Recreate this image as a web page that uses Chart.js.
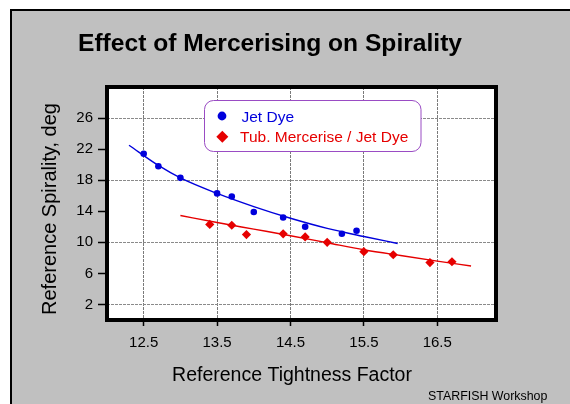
<!DOCTYPE html>
<html>
<head>
<meta charset="utf-8">
<script src="https://cdn.jsdelivr.net/npm/chart.js@4.4.0/dist/chart.umd.min.js"></script>
<style>
  html, body { margin: 0; padding: 0; background: #fff; }
</style>
</head>
<body>
<canvas id="chart" width="570" height="404"></canvas>
<script>
// values
const jetX = [12.5, 12.7, 13.0, 13.5, 13.7, 14.0, 14.4, 14.7, 15.2, 15.4];
const jetY = [21.4, 19.8, 18.3, 16.3, 15.9, 13.9, 13.2, 12.0, 11.1, 11.5];
const mercX = [13.4, 13.7, 13.9, 14.4, 14.7, 15.0, 15.5, 15.9, 16.4, 16.7];
const mercY = [12.3, 12.2, 11.0, 11.1, 10.7, 10.0, 8.8, 8.4, 7.4, 7.5];
// trend lines
const jetFitX = [12.3, 12.7, 13.0, 13.5, 14.0, 14.5, 15.0, 15.5, 15.96];
const jetFitY = [22.5, 19.9, 18.3, 16.3, 14.6, 13.1, 11.8, 10.75, 9.85];
const mercFitX = [13.0, 13.5, 14.0, 14.5, 15.0, 15.5, 16.0, 16.5, 16.96];
const mercFitY = [13.45, 12.55, 11.7, 10.85, 9.95, 9.05, 8.3, 7.58, 6.95];

const xTicks = [12.5, 13.5, 14.5, 15.5, 16.5];
const yTicks = [2, 6, 10, 14, 18, 22, 26];
const yGridAt = [2, 10, 18, 26];

const seriesNames = ['Jet Dye', 'Tub. Mercerise / Jet Dye'];
const BLUE = 'rgb(0,0,220)';
const RED = 'rgb(230,0,0)';
const FONT = '"Liberation Sans", Arial, sans-serif';

const pts = (xs, ys) => xs.map((x, i) => ({ x: x, y: ys[i] }));

const framePlugin = {
  id: 'frame',
  beforeDraw(chart) {
    const c = chart.ctx, a = chart.chartArea;
    c.save();
    c.fillStyle = '#fff';
    c.fillRect(0, 0, chart.width, chart.height);
    c.fillStyle = '#c0c0c0';
    c.fillRect(11, 10, chart.width - 11, chart.height - 10);
    c.fillStyle = '#000';
    c.fillRect(10, 9, chart.width - 10, 2);
    c.fillRect(10, 9, 2, chart.height - 9);
    c.fillStyle = '#fff';
    c.fillRect(a.left, a.top, a.width, a.height);
    c.restore();
  },
  afterDatasetsDraw(chart) {
    const c = chart.ctx, a = chart.chartArea;
    c.save();
    // plot border
    c.strokeStyle = '#000';
    c.lineWidth = 4;
    c.strokeRect(a.left, a.top, a.width, a.height);

    // legend box
    c.beginPath();
    c.roundRect(204.5, 100.5, 216.5, 51, 9);
    c.fillStyle = '#fff';
    c.fill();
    c.strokeStyle = '#9a4cc4';
    c.lineWidth = 1;
    c.stroke();

    c.fillStyle = BLUE;
    c.beginPath();
    c.arc(222, 116, 4.4, 0, Math.PI * 2);
    c.fill();
    c.fillStyle = RED;
    c.beginPath();
    c.moveTo(222.3, 130.7);
    c.lineTo(228.3, 136.7);
    c.lineTo(222.3, 142.7);
    c.lineTo(216.3, 136.7);
    c.closePath();
    c.fill();

    c.font = '15.5px ' + FONT;
    c.textBaseline = 'alphabetic';
    c.textAlign = 'left';
    c.fillStyle = BLUE;
    c.fillText(seriesNames[0], 241.5, 121.6);
    c.fillStyle = RED;
    c.fillText(seriesNames[1], 240, 142.3);
    c.restore();
  },
  afterDraw(chart) {
    const c = chart.ctx;
    c.save();
    c.fillStyle = '#000';
    c.textAlign = 'center';
    c.textBaseline = 'alphabetic';
    c.font = 'bold 24.6px ' + FONT;
    c.fillText('Effect of Mercerising on Spirality', 270, 51);

    c.font = '19.5px ' + FONT;
    c.fillText('Reference Tightness Factor', 292, 381);

    c.save();
    c.translate(56, 209);
    c.rotate(-Math.PI / 2);
    c.font = '20px ' + FONT;
    c.fillText('Reference Spirality, deg', 0, 0);
    c.restore();

    c.textAlign = 'left';
    c.font = '12.4px ' + FONT;
    c.fillText('STARFISH Workshop', 428, 400);
    c.restore();
  }
};

new Chart(document.getElementById('chart'), {
  type: 'scatter',
  data: {
    datasets: [
      {
        label: seriesNames[0],
        data: pts(jetX, jetY),
        pointStyle: 'circle',
        pointRadius: 3.3,
        pointBorderWidth: 0,
        backgroundColor: BLUE,
        borderColor: BLUE
      },
      {
        label: seriesNames[1],
        data: pts(mercX, mercY),
        pointStyle: 'rectRot',
        pointRadius: 4.6,
        pointBorderWidth: 0,
        backgroundColor: RED,
        borderColor: RED
      },
      {
        type: 'line',
        label: 'fit1',
        data: pts(jetFitX, jetFitY),
        borderColor: BLUE,
        borderWidth: 1.4,
        pointRadius: 0,
        cubicInterpolationMode: 'monotone',
        fill: false
      },
      {
        type: 'line',
        label: 'fit2',
        data: pts(mercFitX, mercFitY),
        borderColor: RED,
        borderWidth: 1.4,
        pointRadius: 0,
        cubicInterpolationMode: 'monotone',
        fill: false
      }
    ]
  },
  options: {
    responsive: false,
    animation: false,
    events: [],
    layout: { padding: { left: 0, top: 87, right: 74, bottom: 0 } },
    plugins: {
      legend: { display: false },
      title: { display: false },
      tooltip: { enabled: false }
    },
    scales: {
      x: {
        type: 'linear',
        min: 12,
        max: 17.3,
        afterBuildTicks: s => { s.ticks = xTicks.map(v => ({ value: v })); },
        afterFit: s => { s.height = 84; },
        border: { display: false, dash: [3, 1] },
        grid: {
          color: '#7a7a7a',
          lineWidth: 1,
          tickLength: 6,
          tickColor: '#000',
          tickWidth: 1.5
        },
        ticks: {
          color: '#000',
          padding: 8,
          maxRotation: 0,
          font: { family: FONT, size: 15 },
          callback: v => String(v)
        }
      },
      y: {
        type: 'linear',
        min: 0,
        max: 30,
        afterBuildTicks: s => { s.ticks = yTicks.map(v => ({ value: v })); },
        afterFit: s => { s.width = 107; },
        border: { display: false, dash: [3, 1] },
        grid: {
          color: c => (c.tick && yGridAt.includes(c.tick.value)) ? '#8a8a8a' : 'rgba(0,0,0,0)',
          lineWidth: 1,
          tickLength: 9,
          tickColor: '#000',
          tickWidth: 1.5
        },
        ticks: {
          color: '#000',
          padding: 5,
          font: { family: FONT, size: 15 },
          callback: v => String(v)
        }
      }
    }
  },
  plugins: [framePlugin]
});
</script>
</body>
</html>
